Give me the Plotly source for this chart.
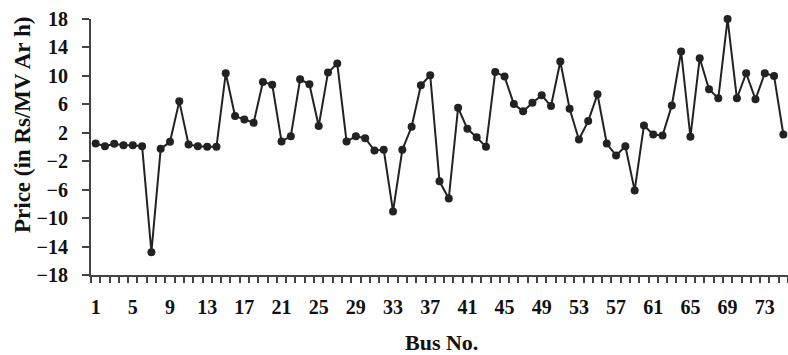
import plotly.graph_objects as go

bus = list(range(1, 76))
price = [0.49, 0.11, 0.44, 0.25, 0.25, 0.11, -14.8, -0.26, 0.73, 6.42,
         0.35, 0.11, 0.02, 0.02, 10.37, 4.35, 3.88, 3.41, 9.15, 8.77,
         0.77, 1.52, 9.52, 8.82, 2.94, 10.46, 11.73, 0.77, 1.52, 1.24,
         -0.5, -0.4, -9.06, -0.4, 2.84, 8.68, 10.09, -4.83, -7.23, 5.52,
         2.56, 1.38, 0.02, 10.56, 9.9, 6.04, 5.01, 6.23, 7.26, 5.76,
         12.02, 5.38, 1.05, 3.64, 7.41, 0.49, -1.2, 0.11, -6.1, 3.03,
         1.76, 1.62, 5.85, 13.43, 1.43, 12.49, 8.11, 6.84, 17.99, 6.84,
         10.37, 6.7, 10.37, 9.99, 1.76]
x_tick_vals = list(range(1, 74, 4))
y_tick_vals = list(range(-18, 19, 4))

font_family = "Liberation Serif"
ink = "#222222"
W, H = 788, 355
ML, MR, MT, MB = 91, 0, 19, 80

fig = go.Figure()
fig.add_trace(go.Scatter(
    x=bus, y=price, mode="lines+markers",
    line=dict(color=ink, width=2),
    marker=dict(color=ink, size=8),
    cliponaxis=False,
    showlegend=False,
))

fig.update_layout(
    width=W, height=H,
    margin=dict(l=ML, r=MR, t=MT, b=MB),
    paper_bgcolor="white", plot_bgcolor="white",
    font=dict(family=font_family, color="#111111"),
)
fig.update_xaxes(
    range=[0.5, 75.5],
    tickmode="array", tickvals=x_tick_vals,
    ticktext=[str(v) for v in x_tick_vals],
    ticks="", showgrid=False, zeroline=False,
    showline=True, linecolor="#444444", linewidth=2,
    tickfont=dict(family=font_family, size=20, weight="bold"),
    ticklabelstandoff=13,
    minor=dict(tickmode="linear", tick0=0.5, dtick=1, ticks="outside",
               ticklen=6, tickwidth=1.5, tickcolor="#444444", showgrid=False),
)
fig.update_yaxes(
    range=[-18, 18],
    tickmode="array", tickvals=y_tick_vals,
    ticks="outside", ticklen=7, tickwidth=1.5, tickcolor="#444444",
    showgrid=False, zeroline=False,
    showline=True, linecolor="#444444", linewidth=2,
    tickfont=dict(family=font_family, size=20, weight="bold"),
    ticklabelstandoff=10,
)

# axis titles placed as annotations (paper-pixel positions)
fig.add_annotation(
    text="<b>Bus No.</b>", xref="paper", yref="paper",
    x=(442 - ML) / (W - ML - MR), y=-(342 - (H - MB)) / (H - MT - MB),
    xanchor="center", yanchor="middle", showarrow=False,
    font=dict(family=font_family, size=22, color="#111111"),
)
fig.add_annotation(
    text="<b>Price (in Rs/MV Ar h)</b>", xref="paper", yref="paper",
    x=-(ML - 22) / (W - ML - MR), y=((H - MB) - 125) / (H - MT - MB),
    xanchor="center", yanchor="middle", textangle=-90, showarrow=False,
    font=dict(family=font_family, size=23, color="#111111"),
)

fig.write_html("out.html")
